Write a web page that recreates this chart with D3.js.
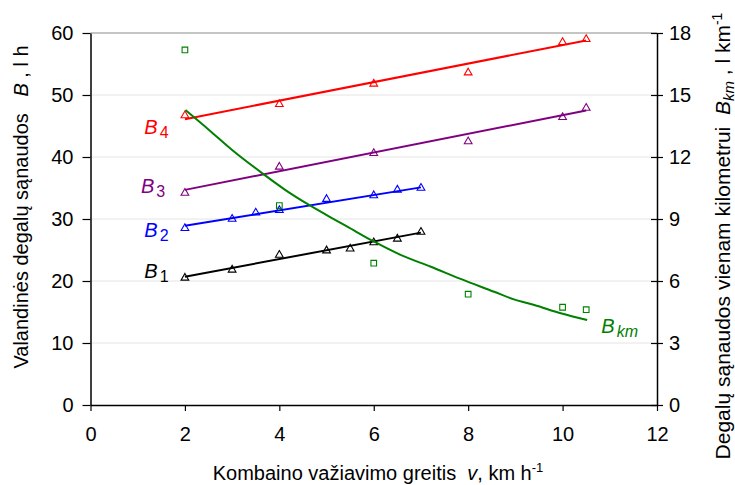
<!DOCTYPE html>
<html lang="lt">
<head>
<meta charset="UTF-8">
<title>Degalų sąnaudos</title>
<script src="https://d3js.org/d3.v7.min.js"></script>
<style>
  body { margin: 0; background: #fff; }
  svg text { font-family: "Liberation Sans", Arial, sans-serif; white-space: pre; }
</style>
</head>
<body>
<svg id="chart" width="735" height="485"></svg>
<script>
const b1V = [2, 3, 4, 5, 5.5, 6, 6.5, 7];
const b1Y = [20.5, 21.8, 24.2, 24.9, 25.2, 26.2, 26.8, 27.9];
const b1Fit = [[2, 20.7], [7, 27.8]];

const b2V = [2, 3, 3.5, 4, 5, 6, 6.5, 7];
const b2Y = [28.5, 30.0, 31.0, 31.4, 33.2, 33.8, 34.7, 35.0];
const b2Fit = [[2, 28.9], [7, 35.1]];

const b3V = [2, 4, 6, 8, 10, 10.5];
const b3Y = [34.2, 38.4, 40.6, 42.5, 46.4, 47.9];
const b3Fit = [[2, 34.7], [10.5, 47.5]];

const b4V = [2, 4, 6, 8, 10, 10.5];
const b4Y = [46.7, 48.5, 51.8, 53.6, 58.5, 59.0];
const b4Fit = [[2, 46.1], [10.5, 58.8]];

// per-kilometre consumption (right axis)
const bkmV = [2, 4, 6, 8, 10, 10.5];
const bkmY = [17.18, 9.65, 6.86, 5.36, 4.73, 4.61];
const bkmCurve = [[2.01, 14.27], [2.51, 13.31], [3.0, 12.34], [3.64, 11.21], [4.13, 10.40],
  [4.63, 9.68], [5.19, 8.95], [5.44, 8.63], [6.01, 7.90], [6.57, 7.26], [7.21, 6.69],
  [7.84, 6.10], [8.55, 5.48], [8.97, 5.11], [9.40, 4.84], [9.96, 4.44], [10.52, 4.11]];

const xTicks = [0, 2, 4, 6, 8, 10, 12];
const yTicks = [0, 10, 20, 30, 40, 50, 60];
const yRTicks = [0, 3, 6, 9, 12, 15, 18];

const svg = d3.select("#chart");
const plotL = 90.5, plotR = 657, plotT = 33, plotB = 405;

const x = d3.scaleLinear().domain([0, 12]).range([plotL, plotR]);
const y = d3.scaleLinear().domain([0, 60]).range([plotB, plotT]);
const yR = d3.scaleLinear().domain([0, 18]).range([plotB, plotT]);

// grid
svg.append("g").selectAll("line")
  .data(yTicks.filter(d => d > 0 && d < 60))
  .join("line")
  .attr("x1", plotL).attr("x2", plotR)
  .attr("y1", d => y(d)).attr("y2", d => y(d))
  .attr("stroke", "#c8c8c8").attr("stroke-width", 1)
  .attr("stroke-dasharray", "1,1");

svg.append("line")
  .attr("x1", plotL).attr("x2", plotR)
  .attr("y1", y(60)).attr("y2", y(60))
  .attr("stroke", "#8c8c8c").attr("stroke-width", 1.2);

// axes
const xAxis = svg.append("g")
  .attr("transform", `translate(0,${plotB})`)
  .call(d3.axisBottom(x).tickValues(xTicks).tickSize(6).tickPadding(14).tickSizeOuter(0));
const yAxis = svg.append("g")
  .attr("transform", `translate(${plotL},0)`)
  .call(d3.axisLeft(y).tickValues(yTicks).tickSize(8).tickPadding(9).tickSizeOuter(0));
const yRAxis = svg.append("g")
  .attr("transform", `translate(${plotR},0)`)
  .call(d3.axisRight(yR).tickValues(yRTicks).tickSize(6).tickPadding(6).tickSizeOuter(0));
yRAxis.selectAll(".tick line").attr("x1", -6);

[xAxis, yAxis, yRAxis].forEach(a => {
  a.attr("font-family", null).attr("font-size", null);
  a.select(".domain").attr("stroke", "#000").attr("stroke-width", 1.5);
  a.selectAll(".tick line").attr("stroke", "#000").attr("stroke-width", 1.2);
  a.selectAll(".tick text").style("font-size", "20px").attr("fill", "#000");
});
xAxis.selectAll(".tick text").attr("dy", "0.8em");

// series
const line = d3.line().x(d => x(d[0])).y(d => y(d[1]));
const lineR = d3.line().x(d => x(d[0])).y(d => yR(d[1])).curve(d3.curveMonotoneX);
const tri = d3.symbol().type(d3.symbolTriangle).size(26);
const sq = d3.symbol().type(d3.symbolSquare).size(32);

const series = [
  { v: b1V, y: b1Y, fit: b1Fit, color: "#000000" },
  { v: b2V, y: b2Y, fit: b2Fit, color: "#0000ff" },
  { v: b3V, y: b3Y, fit: b3Fit, color: "#800080" },
  { v: b4V, y: b4Y, fit: b4Fit, color: "#ff0000" }
];

series.forEach(s => {
  svg.append("path").attr("d", line(s.fit))
    .attr("fill", "none").attr("stroke", s.color).attr("stroke-width", 2);
  svg.append("g").selectAll("path")
    .data(s.v.map((v, i) => [v, s.y[i]]))
    .join("path")
    .attr("d", tri)
    .attr("transform", d => `translate(${x(d[0])},${y(d[1])})`)
    .attr("fill", "none").attr("stroke", s.color).attr("stroke-width", 1.1);
});

svg.append("path").attr("d", lineR(bkmCurve))
  .attr("fill", "none").attr("stroke", "#008000").attr("stroke-width", 2);
svg.append("g").selectAll("path")
  .data(bkmV.map((v, i) => [v, bkmY[i]]))
  .join("path")
  .attr("d", sq)
  .attr("transform", d => `translate(${x(d[0])},${yR(d[1])})`)
  .attr("fill", "none").attr("stroke", "#008000").attr("stroke-width", 1.1);

// series labels
const labels = [
  { name: "B", sub: "4", at: [1.14, 43.7], color: "#ff0000", scale: y },
  { name: "B", sub: "3", at: [1.07, 34.2], color: "#800080", scale: y },
  { name: "B", sub: "2", at: [1.14, 27.1], color: "#0000ff", scale: y },
  { name: "B", sub: "1", at: [1.14, 20.5], color: "#000000", scale: y },
  { name: "B", sub: "km", at: [10.82, 3.5], color: "#008000", scale: yR, subItalic: true }
];
labels.forEach(l => {
  const t = svg.append("text")
    .attr("x", x(l.at[0])).attr("y", l.scale(l.at[1]))
    .attr("fill", l.color).style("font-size", "20px");
  t.append("tspan").attr("font-style", "italic").text(l.name);
  t.append("tspan").attr("dx", 2).attr("dy", 4).style("font-size", "16px")
    .attr("font-style", l.subItalic ? "italic" : "normal").text(l.sub);
});

// axis titles
const xt = svg.append("text")
  .attr("x", 378).attr("y", 480)
  .attr("text-anchor", "middle").style("font-size", "20px");
xt.append("tspan").text("Kombaino važiavimo greitis  ");
xt.append("tspan").attr("font-style", "italic").text("v");
xt.append("tspan").text(", km h");
xt.append("tspan").attr("dy", -8).style("font-size", "13px").text("-1");

const yt = svg.append("text")
  .attr("transform", "translate(28,207) rotate(-90)")
  .attr("text-anchor", "middle").style("font-size", "20px");
yt.append("tspan").text("Valandinės degalų sąnaudos   ");
yt.append("tspan").attr("font-style", "italic").text("B");
yt.append("tspan").text(" , l h");

const yrt = svg.append("text")
  .attr("transform", "translate(730,236) rotate(-90)")
  .attr("text-anchor", "middle").style("font-size", "21px");
yrt.append("tspan").text("Degalų sąnaudos vienam kilometrui  ");
yrt.append("tspan").attr("font-style", "italic").text("B");
yrt.append("tspan").attr("font-style", "italic").style("font-size", "15px").attr("dy", 4).text("km");
yrt.append("tspan").attr("dy", -4).text(" , l km");
yrt.append("tspan").attr("dy", -8).style("font-size", "14px").text("-1");
</script>
</body>
</html>
